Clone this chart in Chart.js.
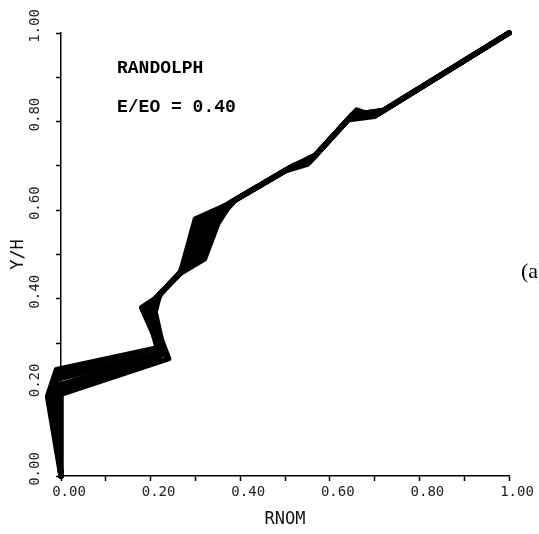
<!DOCTYPE html>
<html>
<head>
<meta charset="utf-8">
<script src="https://cdn.jsdelivr.net/npm/chart.js@4"></script>
<style>
  html, body { margin: 0; padding: 0; background: #fff; }
</style>
</head>
<body>
<canvas id="chart" width="539" height="534"></canvas>
<script>
// profiles of Y/H against RNOM
const profile1X = [0.00, -0.03, -0.01, 0.22, 0.18, 0.21, 0.265, 0.27, 0.30, 0.37, 0.50, 0.55, 0.64, 0.70, 1.00];
const profile1Y = [0.00, 0.18, 0.24, 0.29, 0.38, 0.40, 0.457, 0.47, 0.58, 0.612, 0.689, 0.704, 0.804, 0.812, 1.00];
const profile2X = [0.00, -0.02, -0.01, 0.23, 0.19, 0.215, 0.267, 0.28, 0.31, 0.375, 0.51, 0.555, 0.645, 0.71, 1.00];
const profile2Y = [0.00, 0.18, 0.218, 0.28, 0.38, 0.405, 0.46, 0.47, 0.58, 0.615, 0.695, 0.709, 0.809, 0.819, 1.00];
const profile3X = [0.00, -0.01, 0.00, 0.23, 0.20, 0.22, 0.267, 0.29, 0.32, 0.38, 0.51, 0.56, 0.65, 0.72, 1.00];
const profile3Y = [0.00, 0.17, 0.207, 0.275, 0.37, 0.41, 0.46, 0.48, 0.575, 0.618, 0.695, 0.715, 0.815, 0.825, 1.00];
const profile4X = [0.00, 0.00, 0.00, 0.24, 0.20, 0.225, 0.27, 0.30, 0.33, 0.385, 0.52, 0.565, 0.655, 0.71, 1.00];
const profile4Y = [0.00, 0.17, 0.185, 0.265, 0.37, 0.415, 0.462, 0.48, 0.57, 0.621, 0.701, 0.721, 0.82, 0.819, 1.00];
const profile5X = [0.00, -0.02, 0.00, 0.22, 0.19, 0.23, 0.27, 0.31, 0.34, 0.39, 0.50, 0.57, 0.66, 0.70, 1.00];
const profile5Y = [0.00, 0.18, 0.196, 0.27, 0.38, 0.42, 0.462, 0.49, 0.57, 0.624, 0.689, 0.726, 0.826, 0.812, 1.00];
const profile6X = [0.00, -0.01, -0.01, 0.23, 0.21, 0.22, 0.265, 0.32, 0.35, 0.38, 0.52, 0.56, 0.65, 0.72, 1.00];
const profile6Y = [0.00, 0.17, 0.229, 0.28, 0.37, 0.41, 0.457, 0.49, 0.57, 0.618, 0.701, 0.715, 0.815, 0.825, 1.00];

const profiles = [
  [profile1X, profile1Y],
  [profile2X, profile2Y],
  [profile3X, profile3Y],
  [profile4X, profile4Y],
  [profile5X, profile5Y],
  [profile6X, profile6Y],
];

const noteLines = ["RANDOLPH", "E/EO = 0.40"];
const panelTag = "(a)";

const datasets = profiles.map(([xs, ys]) => ({
  data: xs.map((v, i) => ({ x: v, y: ys[i] })),
  showLine: true,
  borderColor: "#000",
  backgroundColor: "#000",
  borderWidth: 5.5,
  borderJoinStyle: "round",
  borderCapStyle: "round",
  pointRadius: 0,
  tension: 0,
  clip: false,
}));

const tickLabel = (value) =>
  Math.round(value * 10) % 2 === 0 ? value.toFixed(2) : "";

// text written inside the frame
const notes = {
  id: "notes",
  afterDraw(chart) {
    const { ctx, scales: { x, y } } = chart;
    ctx.save();
    ctx.fillStyle = "#000";
    ctx.textBaseline = "middle";
    ctx.font = 'bold 18px "Liberation Mono"';
    ctx.fillText(noteLines[0], x.getPixelForValue(0.125), y.getPixelForValue(0.92));
    ctx.fillText(noteLines[1], x.getPixelForValue(0.125), y.getPixelForValue(0.833));
    ctx.font = '22px "Liberation Serif"';
    ctx.fillText(panelTag, 521, 272);
    ctx.restore();
  },
};

new Chart(document.getElementById("chart"), {
  type: "scatter",
  data: { datasets },
  options: {
    responsive: false,
    animation: false,
    layout: { padding: { top: 33, right: 30, left: 0, bottom: 0 } },
    plugins: { legend: { display: false }, tooltip: { enabled: false } },
    scales: {
      x: {
        min: 0,
        max: 1,
        afterFit: (scale) => { scale.height = 58; },
        border: { display: true, color: "#000", width: 1.5 },
        grid: { drawOnChartArea: false, color: "#000", tickLength: 5, tickWidth: 1.5 },
        ticks: {
          stepSize: 0.1,
          autoSkip: false,
          maxRotation: 0,
          labelOffset: 8,
          padding: 3,
          color: "#222",
          font: { family: "DejaVu Sans Mono", size: 14 },
          callback: tickLabel,
        },
        title: {
          display: true,
          text: "RNOM",
          color: "#111",
          font: { family: "DejaVu Sans Mono", size: 17 },
          padding: { top: 0, bottom: 4 },
        },
      },
      y: {
        min: 0,
        max: 1,
        afterFit: (scale) => { scale.width = 61; },
        border: { display: true, color: "#000", width: 1.5 },
        grid: { drawOnChartArea: false, color: "#000", tickLength: 5, tickWidth: 1.5 },
        ticks: {
          stepSize: 0.1,
          autoSkip: false,
          minRotation: 90,
          maxRotation: 90,
          crossAlign: "center",
          labelOffset: -7,
          padding: 4,
          color: "#222",
          font: { family: "DejaVu Sans Mono", size: 14 },
          callback: tickLabel,
        },
        title: {
          display: true,
          text: "Y/H",
          color: "#111",
          font: { family: "DejaVu Sans Mono", size: 17 },
          padding: { top: 8, bottom: 0 },
        },
      },
    },
  },
  plugins: [notes],
});
</script>
</body>
</html>
